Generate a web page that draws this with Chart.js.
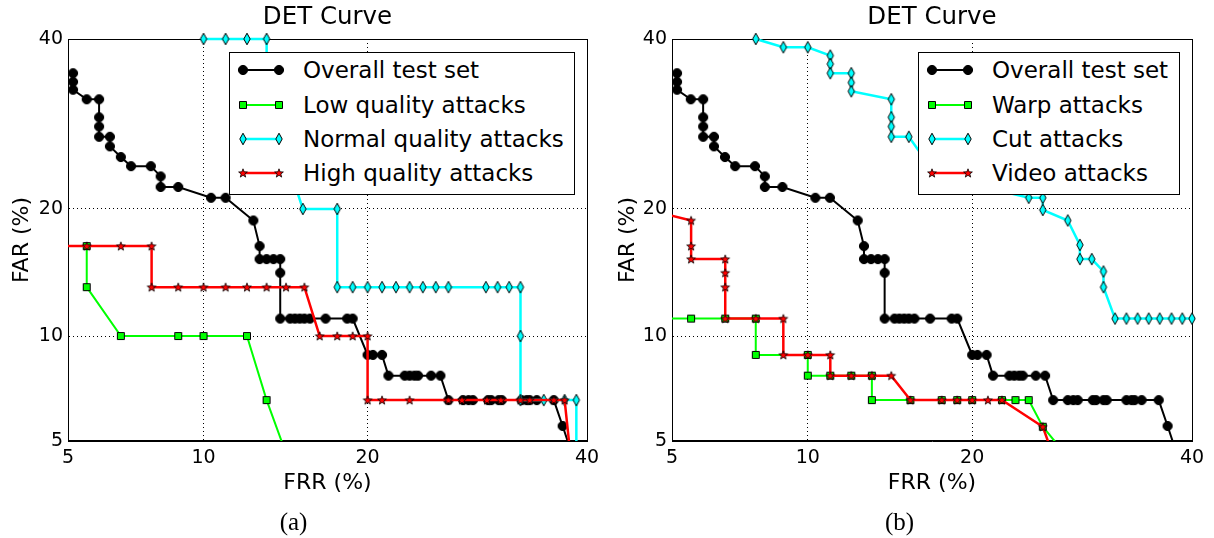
<!DOCTYPE html>
<html>
<head>
<meta charset="utf-8">
<title>DET Curve</title>
<script src="https://cdn.jsdelivr.net/npm/chart.js@4.4.1/dist/chart.umd.min.js"></script>
<style>
  body { margin: 0; background: #fff; }
  #wrap { position: relative; width: 1214px; height: 538px; overflow: hidden; }
  #wrap > canvas { position: absolute; top: 0; }
  #chartA { left: 0; }
  #chartB { left: 607px; }
  .legend {
    position: absolute; top: 52px; height: 143px; box-sizing: border-box;
    border: 1px solid #000; background: #fff;
    font-family: "DejaVu Sans", sans-serif; font-size: 23px; color: #000;
  }
  .legend .row { position: absolute; left: 0; right: 0; height: 34px; }
  .legend .row canvas { position: absolute; top: 0; left: 7px; }
  .legend .row span { position: absolute; left: 73px; top: 0; line-height: 34px; white-space: nowrap; }
</style>
</head>
<body>
<div id="wrap">
  <canvas id="chartA" width="607" height="538"></canvas>
  <canvas id="chartB" width="607" height="538"></canvas>
  <div class="legend" id="legendA" style="left:229px;width:346px"></div>
  <div class="legend" id="legendB" style="left:918px;width:262px"></div>
</div>
<script>
// ---- data (FRR / FAR in %) ----
const tickValues = [5, 10, 20, 40];

const overallFRR = [5.14, 5.14, 5.14, 5.54, 5.92, 5.92, 5.92, 5.92, 6.27, 6.27, 6.64, 7.0, 7.74, 8.13, 8.13, 8.86,
  10.36, 11.08, 12.55, 12.9, 12.9, 13.3, 13.7, 14.1, 14.1, 14.1, 14.7, 15.0, 15.3, 15.6, 15.96, 17.0, 18.5, 18.9,
  20.0, 20.4, 21.1, 21.6, 22.9, 23.3, 23.7, 24.0, 25.1, 25.9, 26.6, 27.9, 28.4, 28.8, 30.2, 30.5, 31.2, 31.5,
  33.4, 33.9, 34.2, 34.9, 36.6, 37.5, 38.5];
const overallFAR = [35.5, 34.4, 33.4, 32.2, 32.2, 30.0, 28.9, 27.7, 27.7, 26.6, 25.4, 24.4, 24.4, 23.3, 22.2, 22.2,
  21.1, 21.1, 18.9, 16.6, 15.5, 15.5, 15.5, 15.5, 14.4, 11.1, 11.1, 11.1, 11.1, 11.1, 11.1, 11.1, 11.1, 11.1,
  8.9, 8.9, 8.9, 7.8, 7.8, 7.8, 7.8, 7.8, 7.8, 7.8, 6.64, 6.64, 6.64, 6.64, 6.64, 6.64, 6.64, 6.64,
  6.64, 6.64, 6.64, 6.64, 6.64, 5.56, 4.5];

// (a) by quality
const lowFRR = [5.54, 5.54, 6.64, 8.86, 10.0, 12.2, 13.3, 14.5];
const lowFAR = [16.6, 13.3, 10.0, 10.0, 10.0, 10.0, 6.64, 4.5];

const normalFRR = [10.0, 11.08, 12.2, 13.3, 13.3, 14.0, 14.7, 15.5, 17.8,
  17.8, 18.9, 20.0, 21.1, 22.2, 23.3, 24.4, 25.5, 26.6, 30.0, 31.1, 32.2, 33.3,
  33.3, 33.3, 35.6, 37.7, 38.9, 38.9];
const normalFAR = [40, 40, 40, 40, 36, 29, 24, 20, 20,
  13.3, 13.3, 13.3, 13.3, 13.3, 13.3, 13.3, 13.3, 13.3, 13.3, 13.3, 13.3, 13.3,
  10.0, 6.64, 6.64, 6.64, 6.64, 4.5];

const highFRR = [4.5, 5.54, 6.64, 7.77, 7.77, 8.86, 10.0, 11.08, 12.2, 13.3, 14.45, 15.6,
  16.6, 17.8, 18.9, 20.0, 20.0, 21.1, 23.3, 26.6, 27.8, 30.1, 31.4, 33.3, 34.2, 36.6, 37.7, 38.3];
const highFAR = [16.6, 16.6, 16.6, 16.6, 13.3, 13.3, 13.3, 13.3, 13.3, 13.3, 13.3, 13.3,
  10.0, 10.0, 10.0, 10.0, 6.64, 6.64, 6.64, 6.64, 6.64, 6.64, 6.64, 6.64, 6.64, 6.64, 6.64, 4.5];

// (b) by attack type
const warpFRR = [4.5, 5.55, 6.65, 7.77, 7.77, 10.0, 10.0, 11.1, 12.2, 13.35, 13.35, 15.7, 17.8, 18.9, 20.0,
  22.3, 23.4, 24.5, 25.7, 27.8];
const warpFAR = [11.1, 11.1, 11.1, 11.1, 8.9, 8.9, 7.8, 7.8, 7.8, 7.8, 6.64, 6.64, 6.64, 6.64, 6.64,
  6.64, 6.64, 6.64, 5.53, 4.5];

const cutFRR = [7.77, 8.9, 10.0, 11.1, 11.1, 11.1, 12.2, 12.2, 12.2, 14.5, 14.5, 14.5, 14.5, 15.6,
  16.5, 19.0, 21.5, 24.5, 25.7, 25.7, 27.9, 29.0, 29.0, 30.1, 31.2, 31.2,
  32.3, 33.4, 34.5, 35.6, 36.7, 37.9, 39.0, 40.0];
const cutFAR = [40, 38.9, 38.9, 37.8, 36.7, 35.5, 35.5, 34.3, 33.2, 32.2, 30.0, 28.9, 27.7, 27.7,
  25.5, 24.0, 22.0, 21.1, 21.1, 19.9, 18.9, 16.7, 15.5, 15.5, 14.5, 13.3,
  11.1, 11.1, 11.1, 11.1, 11.1, 11.1, 11.1, 11.1];

const videoFRR = [4.5, 5.55, 5.55, 5.55, 6.65, 6.65, 6.65, 6.65, 7.77, 8.9, 8.9, 10.0, 11.1, 11.1, 12.2,
  13.35, 14.5, 15.7, 17.8, 18.9, 20.0, 21.2, 22.3, 25.7, 26.6];
const videoFAR = [19.8, 18.9, 16.6, 15.5, 15.5, 14.4, 13.3, 11.1, 11.1, 11.1, 8.9, 8.9, 8.9, 7.8, 7.8,
  7.8, 7.8, 6.64, 6.64, 6.64, 6.64, 6.64, 6.64, 5.53, 4.5];

const namesA = ["Overall test set", "Low quality attacks", "Normal quality attacks", "High quality attacks"];
const namesB = ["Overall test set", "Warp attacks", "Cut attacks", "Video attacks"];

// ---- normal deviate (probit) scale, like matplotlib DET plots ----
function probit(p) {
  const a = [-39.69683028665376, 220.9460984245205, -275.9285104469687, 138.3577518672690, -30.66479806614716, 2.506628277459239];
  const b = [-54.47609879822406, 161.5858368580409, -155.6989798598866, 66.80131188771972, -13.28068155288572];
  const c = [-0.007784894002430293, -0.3223964580411365, -2.400758277161838, -2.549732539343734, 4.374664141464968, 2.938163982698783];
  const d = [0.007784695709041462, 0.3224671290700398, 2.445134137142996, 3.754408661907416];
  const lo = 0.02425;
  if (p < lo) {
    const q = Math.sqrt(-2 * Math.log(p));
    return (((((c[0] * q + c[1]) * q + c[2]) * q + c[3]) * q + c[4]) * q + c[5]) / ((((d[0] * q + d[1]) * q + d[2]) * q + d[3]) * q + 1);
  }
  if (p > 1 - lo) {
    const q = Math.sqrt(-2 * Math.log(1 - p));
    return -(((((c[0] * q + c[1]) * q + c[2]) * q + c[3]) * q + c[4]) * q + c[5]) / ((((d[0] * q + d[1]) * q + d[2]) * q + d[3]) * q + 1);
  }
  const q = p - 0.5, r = q * q;
  return (((((a[0] * r + a[1]) * r + a[2]) * r + a[3]) * r + a[4]) * r + a[5]) * q / (((((b[0] * r + b[1]) * r + b[2]) * r + b[3]) * r + b[4]) * r + 1);
}

function normCdf(z) {
  const t = 1 / (1 + 0.3275911 * Math.abs(z) / Math.SQRT2);
  const y = 1 - (((((1.061405429 * t - 1.453152027) * t) + 1.421413741) * t - 0.284496736) * t + 0.254829592) * t * Math.exp(-z * z / 2);
  return z < 0 ? (1 - y) / 2 : (1 + y) / 2;
}

class ProbitScale extends Chart.LinearScale {
  static id = "probit";
  static defaults = {};
  configure() {
    super.configure();
    this._p0 = probit(this.min / 100);
    this._p1 = probit(this.max / 100);
  }
  getPixelForValue(value) {
    return this.getPixelForDecimal((probit(value / 100) - this._p0) / (this._p1 - this._p0));
  }
  getValueForPixel(pixel) {
    return 100 * normCdf(this._p0 + this.getDecimalForPixel(pixel) * (this._p1 - this._p0));
  }
}
Chart.register(ProbitScale);

// ---- markers (matplotlib style) ----
function marker(shape, fill) {
  const c = document.createElement("canvas");
  c.width = 14;
  c.height = 14;
  const g = c.getContext("2d");
  g.fillStyle = fill;
  g.strokeStyle = "#000";
  g.lineWidth = 1;
  g.beginPath();
  if (shape === "circle") {
    g.arc(7, 7, 4.6, 0, Math.PI * 2);
  } else if (shape === "square") {
    g.rect(3.5, 3.5, 7, 7);
  } else if (shape === "diamond") {
    g.moveTo(7, 1.2); g.lineTo(10.2, 7); g.lineTo(7, 12.8); g.lineTo(3.8, 7); g.closePath();
  } else {
    for (let i = 0; i < 10; i++) {
      const r = i % 2 ? 1.9 : 4.6;
      const ang = -Math.PI / 2 + i * Math.PI / 5;
      g.lineTo(7 + r * Math.cos(ang), 7.4 + r * Math.sin(ang));
    }
    g.closePath();
    g.lineWidth = 0.8;
  }
  g.fill();
  g.stroke();
  return c;
}

const styles = [
  { color: "#000000", width: 2, mark: marker("circle", "#000000") },
  { color: "#00ff00", width: 2, mark: marker("square", "#00ff00") },
  { color: "#00ffff", width: 2.5, mark: marker("diamond", "#00ffff") },
  { color: "#ff0000", width: 2.5, mark: marker("star", "#ff0000") },
];

function series(label, frr, far, i) {
  return {
    label: label,
    data: frr.map((v, k) => ({ x: v, y: far[k] })),
    borderColor: styles[i].color,
    backgroundColor: styles[i].color,
    borderWidth: styles[i].width,
    pointStyle: styles[i].mark,
    pointRadius: 5,
    pointHoverRadius: 5,
    tension: 0,
    order: 3 - i, // later series drawn on top, as in matplotlib
    clip: { left: 0, top: 8, right: 8, bottom: 0 },
  };
}

// full box around the axes
const framePlugin = {
  id: "frame",
  beforeDatasetsDraw(chart) {
    const { ctx, chartArea: a } = chart;
    ctx.save();
    ctx.strokeStyle = "#000";
    ctx.lineWidth = 1;
    ctx.strokeRect(Math.round(a.left) + 0.5, Math.round(a.top) + 0.5, Math.round(a.width), Math.round(a.height) - 1);
    ctx.restore();
  },
};

Chart.defaults.font.family = "'DejaVu Sans', sans-serif";
Chart.defaults.color = "#000";

function makeChart(id, datasets, caption, axisWidth, padRight, titlePad) {
  const axisStyle = {
    type: "probit",
    min: 5,
    max: 40,
    afterBuildTicks: (s) => { s.ticks = tickValues.map((v) => ({ value: v })); },
    ticks: { callback: (v) => String(v), font: { size: 19 }, color: "#000", maxRotation: 0, autoSkip: false },
    grid: { color: "#000", lineWidth: 1, drawTicks: false },
    border: { color: "#000", width: 1, dash: [1, 3] },
  };
  return new Chart(document.getElementById(id), {
    type: "line",
    data: { datasets: datasets },
    options: {
      responsive: false,
      animation: false,
      events: [],
      layout: { padding: { left: 0, right: padRight, top: 0, bottom: 0 }, autoPadding: false },
      plugins: {
        legend: { display: false },
        tooltip: { enabled: false },
        title: {
          display: true,
          text: "DET Curve",
          fullSize: false,
          color: "#000",
          font: { size: 24.5, weight: "normal" },
          padding: { top: 3, bottom: 6.6 },
        },
        subtitle: {
          display: true,
          position: "bottom",
          text: caption,
          color: "#000",
          font: { family: "'Liberation Serif', serif", size: 25, weight: "normal" },
          padding: { top: 4.4, bottom: 0 },
        },
      },
      scales: {
        x: {
          ...axisStyle,
          position: "bottom",
          ticks: { ...axisStyle.ticks, padding: 6 },
          title: { display: true, text: "FRR (%)", color: "#000", font: { size: 22 }, padding: { top: 0, bottom: 7.4 } },
          afterFit: (s) => {
            s.height = 62.6;
            s.paddingLeft = 0; s.paddingRight = 0;
          },
        },
        y: {
          ...axisStyle,
          position: "left",
          ticks: { ...axisStyle.ticks, padding: 5 },
          title: { display: true, text: "FAR (%)", color: "#000", font: { size: 22 }, padding: { top: titlePad, bottom: 0 } },
          afterFit: (s) => {
            s.width = axisWidth;
            s.paddingTop = 0; s.paddingBottom = 0;
          },
        },
      },
    },
    plugins: [framePlugin],
  });
}

makeChart("chartA", [
  series(namesA[0], overallFRR, overallFAR, 0),
  series(namesA[1], lowFRR, lowFAR, 1),
  series(namesA[2], normalFRR, normalFAR, 2),
  series(namesA[3], highFRR, highFAR, 3),
], "(a)", 68, 20, 8.8);

makeChart("chartB", [
  series(namesB[0], overallFRR, overallFAR, 0),
  series(namesB[1], warpFRR, warpFAR, 1),
  series(namesB[2], cutFRR, cutFAR, 2),
  series(namesB[3], videoFRR, videoFAR, 3),
], "(b)", 65, 22, 7.8);

// HTML legend with a white box, drawn over the lines
function buildLegend(id, names) {
  const box = document.getElementById(id);
  names.forEach((name, i) => {
    const row = document.createElement("div");
    row.className = "row";
    row.style.top = (0.3 + i * 34.3) + "px";
    const c = document.createElement("canvas");
    c.width = 48;
    c.height = 34;
    const g = c.getContext("2d");
    g.strokeStyle = styles[i].color;
    g.lineWidth = styles[i].width;
    g.beginPath();
    g.moveTo(6, 17);
    g.lineTo(42, 17);
    g.stroke();
    g.drawImage(styles[i].mark, 6 - 7, 17 - 7);
    g.drawImage(styles[i].mark, 42 - 7, 17 - 7);
    const span = document.createElement("span");
    span.textContent = name;
    row.appendChild(c);
    row.appendChild(span);
    box.appendChild(row);
  });
}
buildLegend("legendA", namesA);
buildLegend("legendB", namesB);
</script>
</body>
</html>
